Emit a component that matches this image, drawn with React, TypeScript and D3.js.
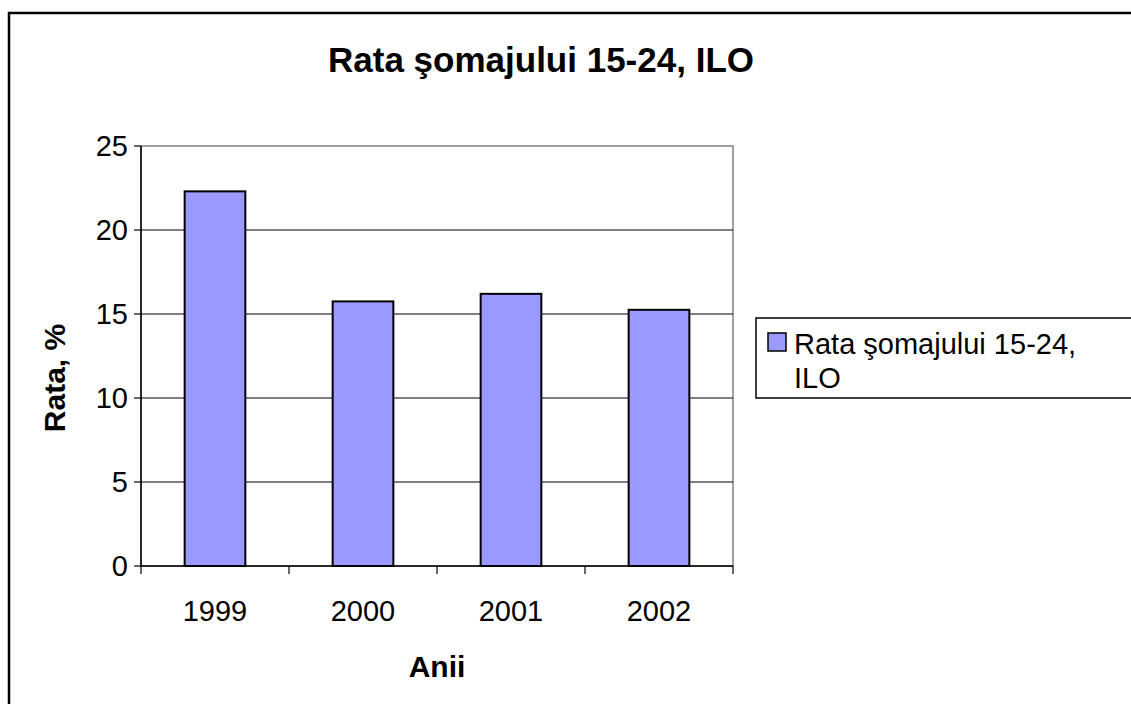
import React from "react";
import * as d3 from "d3";

const title = "Rata şomajului 15-24, ILO";
const seriesName = "Rata şomajului 15-24, ILO";
const legendLines = ["Rata şomajului 15-24,", "ILO"];
const categories = ["1999", "2000", "2001", "2002"];
const values = [22.3, 15.75, 16.2, 15.25];
const yTicks = [0, 5, 10, 15, 20, 25];
const xTitle = "Anii";
const yTitle = "Rata, %";

export default function App() {
  const W = 1131, H = 704;
  const left = 141, right = 733, top = 146, bottom = 566;
  const x = d3.scaleBand<string>().domain(categories).range([left, right]).paddingInner(0).paddingOuter(0);
  const y = d3.scaleLinear().domain([0, 25]).range([bottom, top]);
  const bw = x.bandwidth() * 0.41;
  const font = "Arial, 'Liberation Sans', sans-serif";
  const boundaries = categories.map((c) => x(c)!).concat([right]);
  return (
    <svg width={W} height={H} style={{ position: "absolute", left: 0, top: 0 }} fontFamily={font}>
      <rect x={0} y={0} width={W} height={H} fill="#fff" />
      <rect x={9} y={13} width={1140} height={720} fill="none" stroke="#000" strokeWidth={2.5} />
      <text x={541} y={72} textAnchor="middle" fontSize={35} fontWeight="bold">{title}</text>
      {/* plot border */}
      <rect x={left} y={top} width={right - left} height={bottom - top} fill="none" stroke="#808080" strokeWidth={1.5} />
      {/* gridlines */}
      {yTicks.filter((t) => t > 0 && t < 25).map((t) => (
        <line key={t} x1={left} x2={right} y1={y(t)} y2={y(t)} stroke="#000" strokeWidth={1.2} />
      ))}
      {/* bars */}
      {categories.map((c, i) => (
        <rect key={c} x={x(c)! + (x.bandwidth() - bw) / 2} y={y(values[i])} width={bw} height={bottom - y(values[i])}
          fill="#9999FF" stroke="#000" strokeWidth={2} />
      ))}
      {/* y axis */}
      <line x1={left} x2={left} y1={top} y2={bottom} stroke="#000" strokeWidth={1.5} />
      {yTicks.map((t) => (
        <g key={t}>
          <line x1={left - 7} x2={left} y1={y(t)} y2={y(t)} stroke="#000" strokeWidth={1.2} />
          <text x={left - 13} y={y(t) + 10} textAnchor="end" fontSize={29}>{t}</text>
        </g>
      ))}
      {/* x axis */}
      <line x1={left} x2={right} y1={bottom} y2={bottom} stroke="#000" strokeWidth={1.5} />
      {boundaries.map((b, i) => (
        <line key={i} x1={b} x2={b} y1={bottom} y2={bottom + 8} stroke="#000" strokeWidth={1.2} />
      ))}
      {categories.map((c) => (
        <text key={c} x={x(c)! + x.bandwidth() / 2} y={621} textAnchor="middle" fontSize={29}>{c}</text>
      ))}
      <text x={(left + right) / 2} y={677} textAnchor="middle" fontSize={30} fontWeight="bold">{xTitle}</text>
      <text transform={`translate(65,${378}) rotate(-90)`} textAnchor="middle" fontSize={30} fontWeight="bold">{yTitle}</text>
      {/* legend */}
      <rect x={756} y={318} width={400} height={80} fill="#fff" stroke="#000" strokeWidth={1.5} />
      <rect x={768} y={333} width={18} height={18} fill="#9999FF" stroke="#000" strokeWidth={1.5} />
      <title>{seriesName}</title>
      {legendLines.map((l, i) => (
        <text key={i} x={794} y={354 + i * 34} fontSize={29}>{l}</text>
      ))}
    </svg>
  );
}
